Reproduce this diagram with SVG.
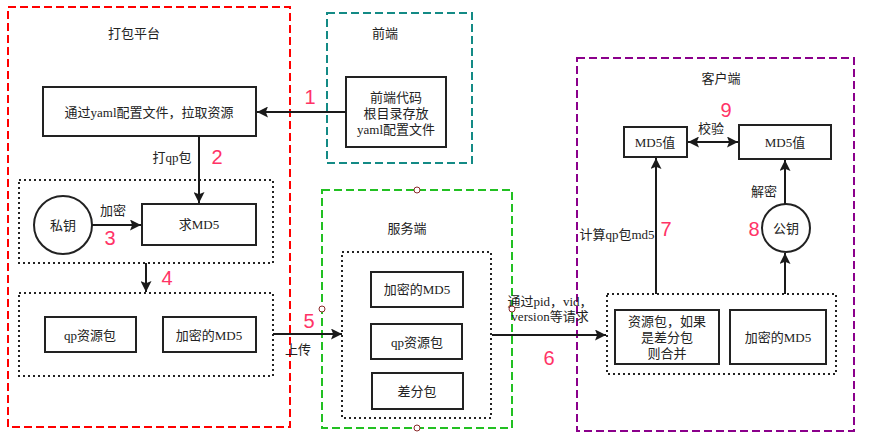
<svg xmlns="http://www.w3.org/2000/svg" width="870" height="448" viewBox="0 0 870 448">
<defs>
<marker id="arr" viewBox="0 0 10 10" refX="10" refY="5" markerWidth="7" markerHeight="7" orient="auto-start-reverse" markerUnits="userSpaceOnUse">
<path d="M0,0 L10,5 L0,10 Z" fill="#1a1a1a"/>
</marker>
<marker id="arrL" viewBox="0 0 10 10" refX="10" refY="5" markerWidth="13" markerHeight="11" orient="auto-start-reverse" markerUnits="userSpaceOnUse">
<path d="M0,0 L10,5 L0,10 L2,5 Z" fill="#1a1a1a"/>
</marker>
</defs>
<style>
text{font-family:"Liberation Serif","Noto Sans CJK SC",serif;font-size:13px;fill:#222;text-anchor:middle;dominant-baseline:central}
.num{font-family:"Liberation Sans",Arial,sans-serif;font-size:20px;fill:#ff3366}
.box{fill:#fff;stroke:#222;stroke-width:2}
.dot{fill:none;stroke:#222;stroke-width:2;stroke-dasharray:2 3}
.con{fill:none;stroke:#1a1a1a;stroke-width:2;marker-end:url(#arrL)}
.pt{fill:#fff;stroke:#8b2a2a;stroke-width:1}
</style>
<rect width="870" height="448" fill="#fff"/>

<g id="platform">
<rect x="8" y="7" width="282" height="420" fill="none" stroke="#ff0000" stroke-width="2" stroke-dasharray="8 4"/>
<text x="134" y="33">打包平台</text>
</g>
<g id="frontend">
<rect x="327" y="13" width="145" height="150" fill="none" stroke="#138a85" stroke-width="2" stroke-dasharray="8 4"/>
<text x="385" y="33">前端</text>
</g>
<g id="server">
<rect x="322" y="190" width="190" height="238" fill="none" stroke="#22c022" stroke-width="2" stroke-dasharray="8 4"/>
<text x="407" y="228">服务端</text>
</g>
<g id="client">
<rect x="577" y="58" width="277" height="373" fill="none" stroke="#8b008b" stroke-width="2" stroke-dasharray="8 4"/>
<text x="721" y="78">客户端</text>
</g>

<g id="pull">
<rect class="box" x="43" y="87" width="213" height="49"/>
<text x="149" y="112">通过yaml配置文件，拉取资源</text>
</g>
<g id="fecode">
<rect class="box" x="346" y="77" width="100" height="70"/>
<text x="396" y="97">前端代码</text>
<text x="396" y="113">根目录存放</text>
<text x="396" y="129">yaml配置文件</text>
</g>

<g id="group1">
<rect class="dot" x="19" y="180" width="254" height="83"/>
</g>
<g id="privkey">
<circle cx="63" cy="225" r="29" class="box"/>
<text x="63" y="225">私钥</text>
</g>
<g id="md5">
<rect class="box" x="142" y="204" width="114" height="41"/>
<text x="199" y="224">求MD5</text>
</g>

<g id="group2">
<rect class="dot" x="19" y="293" width="254" height="83"/>
</g>
<g id="qppkg">
<rect class="box" x="45" y="317" width="91" height="35"/>
<text x="90" y="335">qp资源包</text>
</g>
<g id="encmd5">
<rect class="box" x="163" y="317" width="93" height="35"/>
<text x="209" y="335">加密的MD5</text>
</g>

<g id="group3">
<rect class="dot" x="342" y="252" width="149" height="166"/>
</g>
<g id="s_encmd5">
<rect class="box" x="371" y="272" width="92" height="35"/>
<text x="417" y="289">加密的MD5</text>
</g>
<g id="s_qppkg">
<rect class="box" x="371" y="324" width="91" height="35"/>
<text x="417" y="342">qp资源包</text>
</g>
<g id="s_diff">
<rect class="box" x="372" y="373" width="91" height="36"/>
<text x="417" y="391">差分包</text>
</g>

<g id="group4">
<rect class="dot" x="607" y="294" width="229" height="80"/>
</g>
<g id="merge">
<rect class="box" x="615" y="310" width="104" height="54"/>
<text x="667" y="321">资源包，如果</text>
<text x="667" y="337">是差分包</text>
<text x="667" y="353">则合并</text>
</g>
<g id="c_encmd5">
<rect class="box" x="730" y="310" width="96" height="54"/>
<text x="778" y="337">加密的MD5</text>
</g>
<g id="md5v1">
<rect class="box" x="624" y="127" width="63" height="30"/>
<text x="655" y="142">MD5值</text>
</g>
<g id="md5v2">
<rect class="box" x="739" y="125" width="92" height="34"/>
<text x="785" y="142">MD5值</text>
</g>
<g id="pubkey">
<circle cx="786" cy="228" r="24" class="box"/>
<text x="786" y="228">公钥</text>
</g>

<g id="connectors">
<line class="con" x1="346" y1="112" x2="257" y2="112"/>
<line class="con" x1="199" y1="136" x2="199" y2="203"/>
<line class="con" x1="92" y1="225" x2="141" y2="225"/>
<line class="con" x1="146" y1="263" x2="146" y2="292"/>
<line class="con" x1="273" y1="334" x2="342" y2="334"/>
<line class="con" x1="492" y1="335" x2="606" y2="335"/>
<line class="con" x1="656" y1="294" x2="656" y2="158"/>
<line class="con" x1="785" y1="294" x2="785" y2="253"/>
<line class="con" x1="785" y1="204" x2="785" y2="160"/>
<line x1="688" y1="142" x2="738" y2="142" stroke="#1a1a1a" stroke-width="2" marker-start="url(#arrL)" marker-end="url(#arrL)"/>
<text x="172" y="157">打qp包</text>
<text x="113" y="210">加密</text>
<text x="298" y="349">上传</text>
<text x="550" y="301">通过pid，vid，</text>
<text x="550" y="316">version等请求</text>
<text x="617" y="234">计算qp包md5</text>
<text x="764" y="191">解密</text>
<text x="711" y="128">校验</text>
<circle class="pt" cx="417" cy="190" r="3"/>
<circle class="pt" cx="322" cy="309" r="3"/>
<circle class="pt" cx="512" cy="309" r="3"/>
<circle class="pt" cx="417" cy="428" r="3"/>
</g>

<g id="numbers">
<text class="num" x="310" y="97">1</text>
<text class="num" x="217" y="157">2</text>
<text class="num" x="110" y="238">3</text>
<text class="num" x="167" y="278">4</text>
<text class="num" x="309" y="321">5</text>
<text class="num" x="549" y="358">6</text>
<text class="num" x="666" y="229">7</text>
<text class="num" x="754" y="229">8</text>
<text class="num" x="726" y="110">9</text>
</g>
</svg>
